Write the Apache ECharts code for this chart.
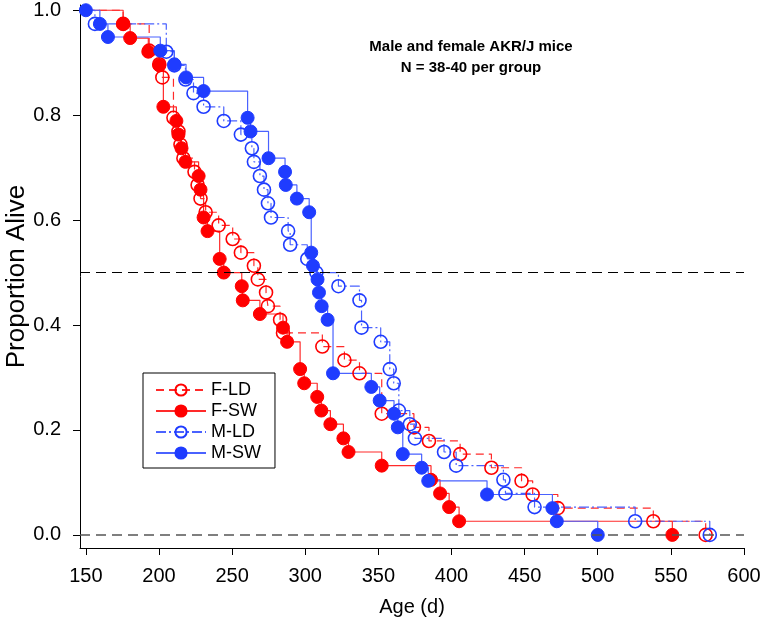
<!DOCTYPE html>
<html><head><meta charset="utf-8">
<script src="https://cdn.jsdelivr.net/npm/echarts@6/dist/echarts.min.js"></script>
<style>html,body{margin:0;padding:0;background:#fff}#c{width:763px;height:625px}</style>
</head><body><div id="c"></div>
<script>
// Kaplan-Meier event points (age in days, proportion alive after the event)
const fldAge  = [175.5,193.3,200.2,202.3,209.9,213.3,214.7,216.7,224.3,226.4,228.4,231.9,240.8,250.4,256,264.9,267.6,273.2,274.5,282.8,284.8,311.7,326.8,337.1,352.3,374.3,384.6,405.9,427.3,447.9,455.5,472.7,538,573.8];
const fldSurv = [0.974,0.923,0.897,0.872,0.795,0.769,0.744,0.718,0.692,0.667,0.641,0.615,0.590,0.564,0.538,0.513,0.487,0.462,0.436,0.410,0.385,0.359,0.333,0.308,0.231,0.205,0.179,0.154,0.128,0.103,0.077,0.051,0.026,0.0];

const fswAge  = [175.5,180.3,192.7,200.2,203,211.9,213.3,215.4,218.1,227.1,228.4,230.5,233.2,241.5,244.3,256.6,257.3,269,284.8,287.6,296.5,299.3,308.2,311,317.2,326.1,329.6,352.3,386,392.2,398.4,405.2,551];
const fswSurv = [0.974,0.947,0.921,0.895,0.816,0.789,0.763,0.737,0.711,0.684,0.658,0.605,0.579,0.526,0.500,0.474,0.447,0.421,0.395,0.368,0.316,0.289,0.263,0.237,0.211,0.184,0.158,0.132,0.105,0.079,0.053,0.026,0.0];

const mldAge  = [156.2,205,210.5,218.1,223.6,230.5,244.3,256,263.5,264.9,269,271.8,274.5,276.6,288.3,289.7,301.4,307.6,322.7,337.1,338.5,351.6,357.8,360.5,364,371.5,375,394.9,403.2,435.5,436.9,456.8,525.6,576.6];
const mldSurv = [0.974,0.921,0.895,0.868,0.842,0.816,0.789,0.763,0.737,0.711,0.684,0.658,0.632,0.605,0.579,0.553,0.526,0.500,0.474,0.447,0.395,0.368,0.316,0.289,0.237,0.211,0.184,0.158,0.132,0.105,0.079,0.053,0.026,0.0];

const mswAge  = [150,159.6,165.1,200.9,210.5,218.5,230.5,260.6,262.6,274.9,286.2,286.7,294.3,302.7,304.1,305.3,308.4,309.4,311.2,315.3,319,345.2,350.9,360.7,363.3,366.7,379.6,384.1,424.3,469,472,500];
const mswSurv = [1.0,0.974,0.949,0.923,0.897,0.872,0.846,0.795,0.769,0.718,0.692,0.667,0.641,0.615,0.538,0.513,0.487,0.462,0.436,0.410,0.308,0.282,0.256,0.231,0.205,0.154,0.128,0.103,0.077,0.051,0.026,0.0];

const seriesNames = ['F-LD','F-SW','M-LD','M-SW'];
const xTicks = [150,200,250,300,350,400,450,500,550,600];
const yTicks = [0,0.2,0.4,0.6,0.8,1.0];
const startAge = 150, startSurv = 1.0;
const titleLines = ['Male and female AKR/J mice','N = 38-40 per group'];

const RED = '#ff0000', BLUE = '#1f3cff';
const FONT = '"Liberation Sans", Arial, Helvetica, sans-serif';

function mk(name, ages, surv, addStart, color, lineColor, dash, filled) {
  const data = [];
  if (addStart) data.push({value:[startAge, startSurv], symbol:'none'});
  ages.forEach((a,i)=>data.push([a, surv[i]]));
  return {
    type:'line', name, step:'end', data,
    symbol:'circle', symbolSize:13, showSymbol:true,
    lineStyle:{color:lineColor, width:1.2, type:dash},
    itemStyle: filled ? {color:color, borderColor:color, borderWidth:1}
                      : {color:'rgba(255,255,255,0)', borderColor:color, borderWidth:1.6},
    emphasis:{disabled:true}, silent:true, z:2
  };
}

const series = [
  mk(seriesNames[0], fldAge, fldSurv, true, RED, '#ff2a2a', [8,5], false),
  mk(seriesNames[1], fswAge, fswSurv, true, RED, '#ff2a2a', 'solid', true),
  mk(seriesNames[2], mldAge, mldSurv, true, BLUE, '#4a62ff', [10,3,2,3], false),
  mk(seriesNames[3], mswAge, mswSurv, false, BLUE, '#4a62ff', 'solid', true)
];
series[0].markLine = {
  silent:true, symbol:'none', label:{show:false}, animation:false,
  data:[
    {yAxis:0.5, lineStyle:{color:'#000', width:1, type:[10,6]}},
    {yAxis:0, lineStyle:{color:'#555', width:1.5, type:[10,6]}}
  ]
};

const chart = echarts.init(document.getElementById('c'), null, {renderer:'canvas'});
chart.setOption({
  animation:false,
  backgroundColor:'#fff',
  textStyle:{fontFamily:FONT},
  grid:{left:80, right:19, top:5, bottom:77, containLabel:false, outerBoundsMode:'none'},
  xAxis:{
    type:'value', min:146, max:600,
    name:'Age (d)', nameLocation:'middle', nameGap:49,
    nameTextStyle:{fontSize:20, color:'#000', fontFamily:FONT},
    axisLine:{show:true, onZero:false, lineStyle:{color:'#000', width:1}},
    axisTick:{show:true, length:7, inside:false, customValues:xTicks, lineStyle:{color:'#000'}},
    axisLabel:{customValues:xTicks, fontSize:20, color:'#000', margin:18, fontFamily:FONT},
    splitLine:{show:false}
  },
  yAxis:{
    type:'value', min:-0.025, max:1.01,
    name:'Proportion Alive', nameLocation:'middle', nameGap:50, nameMoveOverlap:false,
    nameTextStyle:{fontSize:26, color:'#000', fontFamily:FONT},
    axisLine:{show:true, onZero:false, lineStyle:{color:'#000', width:1}},
    axisTick:{show:true, length:7, customValues:yTicks, lineStyle:{color:'#000'}},
    axisLabel:{customValues:yTicks, fontSize:20, color:'#000', margin:19, fontFamily:FONT,
               formatter:v=>v.toFixed(1)},
    splitLine:{show:false}
  },
  legend:{
    data:seriesNames, orient:'vertical', left:143, top:373,
    itemWidth:50, itemHeight:14, itemGap:3,
    padding:[8,14,6,12],
    borderColor:'#000', borderWidth:1, backgroundColor:'#fff',
    textStyle:{fontSize:18, lineHeight:18, color:'#000', fontFamily:FONT},
    selectedMode:false
  },
  graphic:[
    {type:'text', x:471, y:47, style:{text:titleLines[0], font:'bold 15px '+FONT, fill:'#000', align:'center', verticalAlign:'middle'}},
    {type:'text', x:471, y:68, style:{text:titleLines[1], font:'bold 15px '+FONT, fill:'#000', align:'center', verticalAlign:'middle'}}
  ],
  series
});
</script></body></html>
